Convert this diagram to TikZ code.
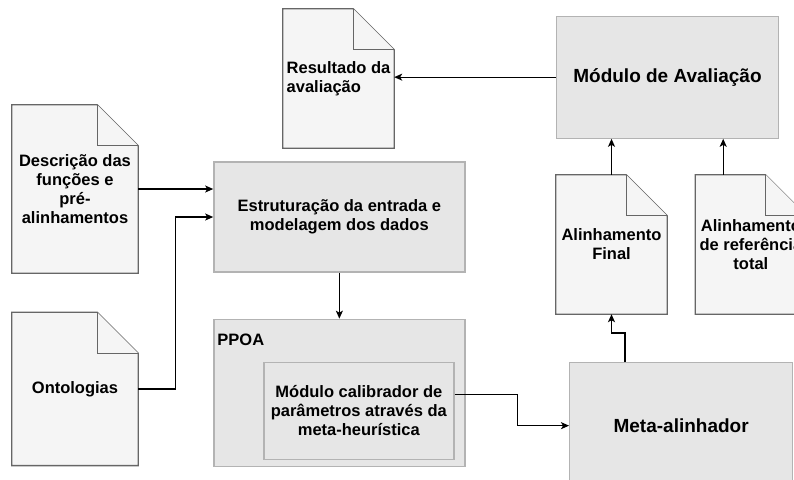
\documentclass[tikz,border=0pt]{standalone}
\usepackage{fontspec}
\setmainfont{Liberation Sans}
\usetikzlibrary{arrows.meta, shapes, backgrounds, positioning}
\definecolor{docfill}{HTML}{F5F5F5}
\definecolor{docline}{HTML}{666666}
\definecolor{boxfill}{HTML}{E6E6E6}
\definecolor{boxline}{HTML}{B3B3B3}
\tikzstyle{doc} = [minimum width = 126pt, minimum height = 168pt, inner sep = 0pt, align = center,
font = \bfseries\fontsize{16.5}{19}\selectfont]
\tikzstyle{box} = [rectangle, draw = boxline, fill = boxfill, line width = 1.3pt, inner sep = 0pt,
align = center, font = \bfseries\fontsize{16.5}{19}\selectfont]
\tikzstyle{docshape} = [draw = docline, fill = docfill, line width = 1.3pt]
\tikzstyle{arrow} = [line width = 1.3pt, ->, >={Stealth[length = 8pt, width = 7pt, inset = 2pt]}]

\begin{document}
\begin{tikzpicture} [x = 1pt, y = -1pt]
\useasboundingbox (0,0) rectangle (794,479);
\node (descr) [doc] at (75,189) {Descrição das\\funções e\\pré-\\alinhamentos};
\node (onto) [doc, below = 39pt of descr, minimum height = 153pt] {Ontologias};
\node (estr) [box, right = 75pt of descr, yshift = -28pt, minimum width = 251pt, minimum height = 110pt] {Estruturação da entrada e\\modelagem dos dados};

\node (ppoa) [box, below = 46pt of estr, minimum width = 251pt, minimum height = 147pt] {};
\node (ppoalabel) [anchor = west, inner sep = 0pt, font = \bfseries\fontsize{16.5}{19}\selectfont] at ([xshift = 4pt, yshift = -21pt]ppoa.north west) {PPOA};
\node (calib) [box, anchor = south east, minimum width = 190pt, minimum height = 97pt] at ([xshift = -11pt, yshift = 7pt]ppoa.south east) {Módulo calibrador de\\parâmetros através da\\meta-heurística};
\node (meta) [box, anchor = north west, minimum width = 223pt, minimum height = 126pt, font = \bfseries\fontsize{19}{22}\selectfont] at (569,362) {Meta-alinhador};

\node (final) [doc, minimum width = 111pt, minimum height = 139pt] at (611.5,244.5) {Alinhamento\\Final};
\node (refer) [doc, right = 28pt of final, minimum width = 111pt, minimum height = 139pt] {Alinhamento\\de referência\\total};
\node (aval) [box, anchor = south west, minimum width = 222pt, minimum height = 122pt, font = \bfseries\fontsize{19}{22}\selectfont] at ([yshift = 36pt]final.north west) {Módulo de Avaliação};
\node (result) [doc, minimum width = 111pt, minimum height = 139pt, align = left] at (338.5,78.5) {Resultado da\\avaliação};

% folded sheets behind the document nodes
\begin{scope}[on background layer]
\foreach \d in {descr, onto, result, final, refer}{
  \draw[docshape] (\d.north west) -- ([xshift = -41pt]\d.north east) -- ([yshift = -41pt]\d.north east) -- (\d.south east) -- (\d.south west) -- cycle;
  \draw[docshape] ([xshift = -41pt]\d.north east) |- ([yshift = -41pt]\d.north east);
}
\end{scope}

\draw[arrow] (descr.east) -- (descr.east -| estr.west);
\draw[arrow] (onto.east) -- ++(37,0) |- (estr.west);
\draw[arrow] (estr) -- (ppoa);
\draw[arrow] ([yshift = 16pt]calib.east) -- ++(63,0) |- (meta.west);
\draw[arrow] ([xshift = 56pt]meta.north west) -- ++(0,-29) -| (final.south);
\draw[arrow] (final.north) -- (final.north |- aval.south);
\coordinate (refertop) at ([xshift = 28pt]refer.north west);
\draw[arrow] (refertop) -- (refertop |- aval.south);
\draw[arrow] (aval.west) -- (aval.west -| result.east);
\end{tikzpicture}
\end{document}
